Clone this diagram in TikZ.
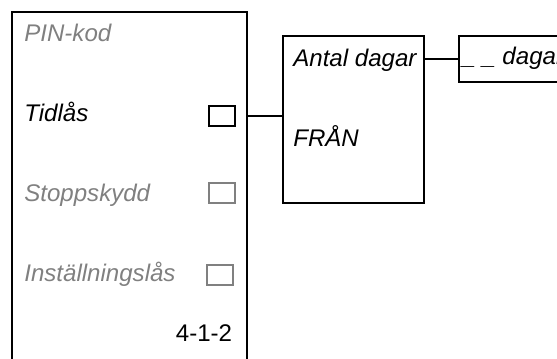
\documentclass[tikz,border=0pt]{standalone}
\usepackage{fontspec}
\setmainfont{Liberation Sans}
\usetikzlibrary{positioning}
\definecolor{dimgray}{RGB}{128,128,128}

\begin{document}
\begin{tikzpicture}[x=0.02cm,y=-0.02cm,
  frame/.style={draw,line width=1.2pt,inner sep=0pt},
  chkbox/.style={draw,line width=0.8pt,minimum width=26*0.02cm,minimum height=20*0.02cm,inner sep=0pt},
  label/.style={anchor=base west,inner sep=0pt,font=\fontsize{13.7}{16}\selectfont\itshape},
  off/.style={text=dimgray,draw=dimgray}]
\useasboundingbox (0,0) rectangle (557,358);
\clip (0,0) rectangle (557,358);
\node[frame,minimum width=235*0.02cm,minimum height=360*0.02cm] (menu) at (129.5,192) {};
\node[label,off,draw=none] (pin) at (24,41.7) {PIN-kod};
\node[label] (tid) at (24,121.7) {Tidlås};
\node[label,off,draw=none] (stopp) at (24,201.7) {Stoppskydd};
\node[label,off,draw=none] (inst) at (24,281.7) {Inställningslås};
\node[anchor=base,inner sep=0pt,font=\fontsize{13.7}{16}\selectfont] (nr) at (204,341.7) {4-1-2};
\node[chkbox] (tidbox) at (222,116) {};
\node[chkbox,off] (stoppbox) at (222,193) {};
\node[chkbox,off] (instbox) at (220,275) {};
\node[frame,minimum width=141*0.02cm,minimum height=167*0.02cm] (days) at (353.5,119.5) {};
\node[label] (antal) at (293,66.7) {Antal dagar};
\node[label] (fran) at (293,146.7) {FRÅN};
\node[frame,minimum width=130*0.02cm,minimum height=46*0.02cm] (value) at (524,59) {};
\node[label] (dagar) at (462,65) {\_ \_ dagar};
\draw[line width=1.2pt] (menu.east |- tidbox) -- (tidbox -| days.west);
\draw[line width=1.2pt] (value.west -| days.east) -- (value.west);
\end{tikzpicture}
\end{document}
